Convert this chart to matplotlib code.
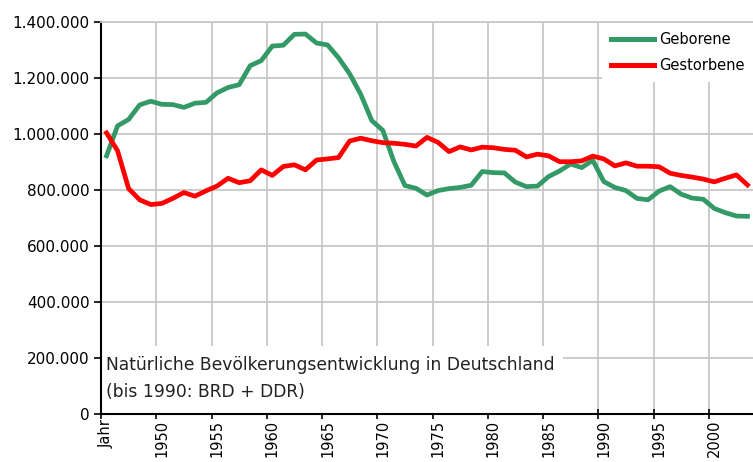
import matplotlib
matplotlib.use("Agg")
import matplotlib.pyplot as plt
from matplotlib.patches import Rectangle
from matplotlib.ticker import FuncFormatter

# category labels as in the source sheet (label column starts with the header "Jahr")
categories = ["Jahr"] + [str(y) for y in range(1946, 2004)]

# Lebendgeborene / Gestorbene, Deutschland (bis 1990: BRD + DDR), 1946-2004
geborene = [
    922000, 1029000, 1052000, 1104000, 1117000, 1106000, 1105000, 1095000, 1110000, 1113000,
    1147000, 1166000, 1176000, 1244000, 1262000, 1314000, 1317000, 1356000, 1357000, 1325000,
    1318000, 1272000, 1215000, 1142000, 1048000, 1013000, 902000, 816000, 806000, 782000,
    798000, 805000, 809000, 817000, 866000, 862000, 861000, 828000, 812000, 814000,
    848000, 868000, 893000, 880000, 906000, 830000, 809000, 798000, 770000, 765000,
    796000, 812000, 785000, 771000, 767000, 734000, 719000, 707000, 706000,
]
gestorbene = [
    1004000, 940000, 805000, 765000, 748000, 752000, 770000, 791000, 778000, 797000,
    814000, 842000, 826000, 833000, 872000, 852000, 884000, 890000, 872000, 907000,
    911000, 916000, 975000, 985000, 976000, 969000, 967000, 963000, 957000, 988000,
    970000, 937000, 954000, 943000, 953000, 951000, 945000, 942000, 918000, 928000,
    922000, 901000, 901000, 904000, 921000, 911000, 886000, 897000, 885000, 885000,
    883000, 860000, 852000, 846000, 839000, 829000, 842000, 854000, 818000,
]

GREEN = "#339966"
RED = "#ff0000"
GRID = "#c8c8c8"
FS = 10.5

plt.rcParams["font.family"] = ["DejaVu Sans"]

fig = plt.figure(figsize=(7.53, 4.62), dpi=100)
ax = fig.add_axes([101 / 753, 48 / 462, 652 / 753, 392 / 462])

pos = list(range(len(geborene)))
ax.plot(pos, geborene, color=GREEN, lw=3.4, label="Geborene", zorder=3,
        solid_joinstyle="round")
ax.plot(pos, gestorbene, color=RED, lw=3.4, label="Gestorbene", zorder=3,
        solid_joinstyle="round")

ax.set_xlim(-0.5, len(categories) - 0.5)
ax.set_ylim(0, 1400000)

# tick marks on category boundaries, labels centred on categories
step = 5
ax.set_xticks([i - 0.5 for i in range(0, len(categories), step)])
ax.set_xticklabels([])
ax.set_xticks(list(range(0, len(categories), step)), minor=True)
ax.set_xticklabels(categories[::step], minor=True, rotation=90, fontsize=FS)
ax.tick_params(axis="x", which="major", direction="inout", length=7, width=1.2)
ax.tick_params(axis="x", which="minor", length=0, pad=4)

ax.set_yticks(range(0, 1400001, 200000))
ax.yaxis.set_major_formatter(FuncFormatter(lambda v, p: f"{int(v):,}".replace(",", ".")))
ax.tick_params(axis="y", direction="out", length=5, width=1.2, labelsize=11, pad=3)

ax.grid(True, which="major", color=GRID, lw=1.3)
ax.set_axisbelow(True)

ax.spines["right"].set_visible(False)
ax.spines["top"].set_color(GRID)
ax.spines["top"].set_linewidth(1.3)
ax.spines["left"].set_linewidth(1.5)
ax.spines["bottom"].set_linewidth(1.5)

# white panel behind the caption hides the grid
ax.add_patch(Rectangle((0, 0), 0.709, 0.173, transform=ax.transAxes,
                       fc="white", ec="none", zorder=1.5))
ax.text(0.007, 0.147, "Natürliche Bevölkerungsentwicklung in Deutschland\n(bis 1990: BRD + DDR)",
        transform=ax.transAxes, ha="left", va="top", fontsize=12.3,
        color="#222222", linespacing=1.62, zorder=4)

leg = ax.legend(loc="upper right", bbox_to_anchor=(1.0, 0.997), fontsize=FS,
                frameon=True, facecolor="white", edgecolor="none", framealpha=1,
                handlelength=3.0, handletextpad=0.3, labelspacing=0.75,
                borderpad=0.6, borderaxespad=0.0, fancybox=False)
leg.get_frame().set_linewidth(0)
for line in leg.get_lines():
    line.set_linewidth(3.6)

fig.savefig("out.png", dpi=100, facecolor="white")
